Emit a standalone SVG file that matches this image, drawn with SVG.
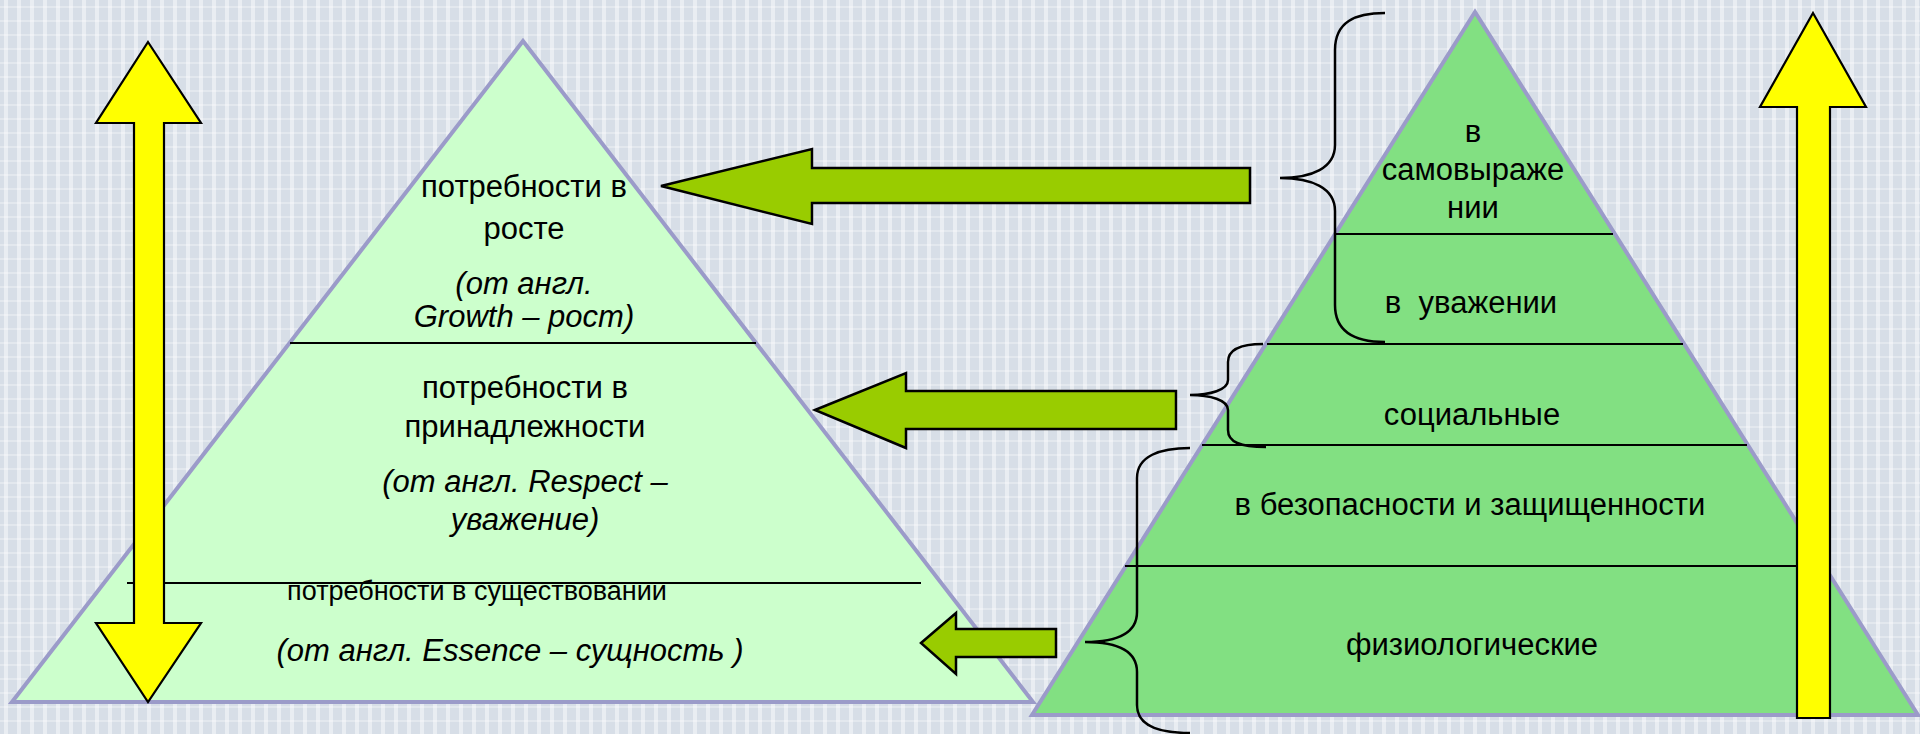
<svg xmlns="http://www.w3.org/2000/svg" width="1920" height="734" viewBox="0 0 1920 734">
<defs>
<pattern id="bg" width="13" height="14" patternUnits="userSpaceOnUse">
<rect width="13" height="14" fill="#d7dee7"/>
<rect x="4" y="0" width="4" height="14" fill="#ffffff" opacity="0.45"/>
<rect x="0" y="6" width="13" height="2" fill="#ffffff" opacity="0.3"/>
</pattern>
<style>
.pyrL{fill:#ccffcc;stroke:#9b9bc9;stroke-width:4;stroke-linejoin:miter}
.pyrR{fill:#82e082;stroke:#9b9bc9;stroke-width:4;stroke-linejoin:miter}
.div{stroke:#000;stroke-width:2.2}
.t{font-family:"Liberation Sans",Arial,sans-serif;font-size:31px;fill:#000;text-anchor:middle}
.i{font-style:italic}
.yel{fill:#ffff00;stroke:#000;stroke-width:2.2;stroke-linejoin:miter}
.grn{fill:#99cc00;stroke:#000;stroke-width:2.5;stroke-linejoin:miter}
.brace{fill:none;stroke:#000;stroke-width:2.5}
</style>
</defs>
<rect width="1920" height="734" fill="url(#bg)"/>

<g id="left-pyramid">
<polygon class="pyrL" points="523,41 12,702 1033,702"/>
<line class="div" x1="290" y1="343" x2="756" y2="343"/>
<line class="div" x1="127" y1="583" x2="921" y2="583"/>
<text class="t" x="524" y="197">потребности в</text>
<text class="t" x="524" y="239">росте</text>
<text class="t i" x="524" y="294">(от англ.</text>
<text class="t i" x="524" y="327">Growth – рост)</text>
<text class="t" x="525" y="398">потребности в</text>
<text class="t" x="525" y="437">принадлежности</text>
<text class="t i" x="525" y="492">(от англ. Respect –</text>
<text class="t i" x="525" y="530">уважение)</text>
<text class="t" x="477" y="600" style="font-size:27px">потребности в существовании</text>
<text class="t i" x="510" y="661">(от англ. Essence – сущность )</text>
</g>

<g id="right-pyramid">
<polygon class="pyrR" points="1475,12 1032,715 1918,715"/>
<line class="div" x1="1336" y1="234" x2="1613" y2="234"/>
<line class="div" x1="1267" y1="344" x2="1683" y2="344"/>
<line class="div" x1="1202" y1="445" x2="1747" y2="445"/>
<line class="div" x1="1125" y1="566" x2="1800" y2="566"/>
<text class="t" x="1473" y="142">в</text>
<text class="t" x="1473" y="180">самовыраже</text>
<text class="t" x="1473" y="218">нии</text>
<text class="t" x="1471" y="313" xml:space="preserve">в  уважении</text>
<text class="t" x="1472" y="425">социальные</text>
<text class="t" x="1470" y="515">в безопасности и защищенности</text>
<text class="t" x="1472" y="655">физиологические</text>
</g>

<g id="left-yellow-arrow">
<polygon class="yel" points="148,42 201,123 164,123 164,623 201,623 148,702 96,623 134,623 134,123 96,123"/>
</g>

<g id="right-yellow-arrow">
<polygon class="yel" points="1813,13 1866,107 1830,107 1830,718 1797,718 1797,107 1760,107"/>
</g>

<g id="connectors">
<polygon class="grn" points="661,186 812,149 812,168 1250,168 1250,203 812,203 812,224"/>
<polygon class="grn" points="815,410 906,373 906,391 1176,391 1176,429 906,429 906,448"/>
<polygon class="grn" points="921,643 956,613 956,629 1056,629 1056,657 956,657 956,674"/>
<path class="brace" d="M1385,13 C1355,13 1335,22 1335,50 L1335,145 C1335,168 1312,178 1280,178 C1312,178 1335,188 1335,211 L1335,305 C1335,332 1355,342 1385,342"/>
<path class="brace" d="M1263,344 C1240,344 1228,350 1228,362 L1228,380 C1228,390 1210,395 1190,395 C1210,395 1228,400 1228,410 L1228,430 C1228,442 1240,447 1266,447"/>
<path class="brace" d="M1190,448 C1160,448 1137,456 1137,478 L1137,612 C1137,634 1115,642 1085,642 C1115,642 1137,650 1137,672 L1137,705 C1137,726 1160,733 1190,733"/>
</g>
</svg>
